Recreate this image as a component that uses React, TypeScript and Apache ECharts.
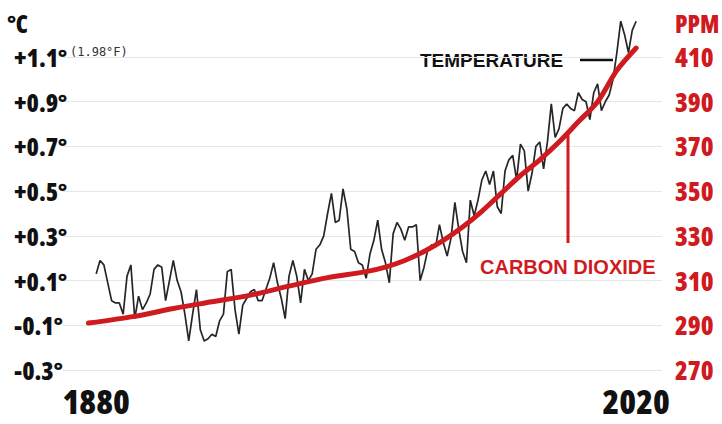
import { useEffect, useRef } from 'react';
import * as echarts from 'echarts';

// Temperature anomaly (°C), one value per year starting at tempStartYear
const tempStartYear = 1880;
const tempValues = [
  0.13, 0.19, 0.17, 0.09, 0.01, 0.0, 0.0, -0.05, 0.12, 0.17,
  -0.07, 0.03, -0.03, 0.0, 0.04, 0.15, 0.17, 0.16, 0.01, 0.1,
  0.19, 0.1, 0.05, -0.05, -0.17, -0.05, 0.06, -0.12, -0.17, -0.16,
  -0.14, -0.15, -0.08, -0.05, 0.14, 0.15, -0.03, -0.14, -0.01, 0.02,
  0.05, 0.06, 0.01, 0.01, 0.06, 0.11, 0.18, 0.09, 0.02, -0.07,
  0.12, 0.19, 0.12, 0.0, 0.15, 0.1, 0.13, 0.24, 0.26, 0.3,
  0.4, 0.49, 0.36, 0.37, 0.51, 0.42, 0.24, 0.23, 0.18, 0.17,
  0.11, 0.22, 0.28, 0.37, 0.24, 0.18, 0.09, 0.31, 0.36, 0.33,
  0.28, 0.34, 0.34, 0.35, 0.1, 0.16, 0.24, 0.26, 0.25, 0.35,
  0.27, 0.21, 0.29, 0.45, 0.33, 0.23, 0.18, 0.46, 0.39, 0.46,
  0.55, 0.59, 0.53, 0.59, 0.43, 0.4, 0.59, 0.64, 0.66, 0.55,
  0.71, 0.68, 0.5, 0.58, 0.7, 0.72, 0.6, 0.72, 0.89, 0.74,
  0.78, 0.87, 0.89, 0.87, 0.86, 0.94, 0.91, 0.9, 0.82, 0.94,
  0.98, 0.86, 0.9, 0.93, 1.0, 1.12, 1.26, 1.2, 1.12, 1.22,
  1.26,
];

// Atmospheric CO2 (ppm)
const co2Years = [1878, 1890, 1900, 1910, 1920, 1930, 1940, 1950, 1955, 1960, 1965, 1970, 1975, 1980, 1985, 1990, 1995, 2000, 2005, 2010, 2015, 2020];
const co2Ppm = [291, 294, 297.5, 300.5, 303.5, 307.5, 311.3, 314, 316, 319, 323, 328, 334, 341, 349, 357, 364, 372, 381, 390, 404, 414];

// Axis ticks
const tempTicks = [-0.3, -0.1, 0.1, 0.3, 0.5, 0.7, 0.9, 1.1];
const ppmTicks = [270, 290, 310, 330, 350, 370, 390, 410];
const yearTicks = [1880, 2020];

const RED = '#cf1b1f';
const COND_FAMILY = "'Open Sans', sans-serif";
// zrender's SVG renderer writes font-weight into an inline style, so a font-stretch can ride along
const COND_WEIGHT = '800;font-stretch:75%';

export default function App() {
  const ref = useRef<HTMLDivElement>(null);
  useEffect(() => {
    if (!ref.current) return;
    const chart = echarts.init(ref.current, undefined, { renderer: 'svg' });
    const tempData = tempValues.map((v, i) => [tempStartYear + i, v]);
    const co2Data = co2Years.map((y, i) => [y, co2Ppm[i]]);
    chart.setOption({
      animation: false,
      backgroundColor: '#ffffff',
      grid: { left: 63, right: 60, top: 57, bottom: 54, containLabel: false, outerBoundsMode: 'none' },
      xAxis: {
        type: 'value',
        min: 1871.4,
        max: 2026.7,
        axisLine: { show: false },
        axisTick: { show: false, customValues: yearTicks },
        splitLine: { show: false },
        axisLabel: {
          customValues: yearTicks,
          margin: 31,
          verticalAlign: 'middle',
          fontFamily: COND_FAMILY,
          fontWeight: COND_WEIGHT,
          fontSize: 34,
          color: '#111',
          formatter: (v: number) => String(v),
        },
      },
      yAxis: [
        {
          type: 'value',
          min: -0.3,
          max: 1.1,
          position: 'left',
          name: '°C',
          nameLocation: 'end',
          nameGap: 29,
          nameTextStyle: { fontFamily: COND_FAMILY, fontWeight: COND_WEIGHT, fontSize: 24, color: '#111', align: 'right', padding: [0, 35, 0, 0] },
          axisLine: { show: false },
          axisTick: { show: false, customValues: tempTicks },
          splitLine: { show: true, lineStyle: { color: '#e4e7e8', width: 1.2 } },
          axisLabel: {
            customValues: tempTicks,
            align: 'left',
            margin: 49,
            fontFamily: COND_FAMILY,
            fontWeight: COND_WEIGHT,
            fontSize: 25,
            color: '#111',
            formatter: (v: number) => (v > 0 ? '+' : '') + v.toFixed(1) + '°',
          },
        },
        {
          type: 'value',
          min: 270,
          max: 410,
          position: 'right',
          name: 'PPM',
          nameLocation: 'end',
          nameGap: 29,
          nameTextStyle: { fontFamily: COND_FAMILY, fontWeight: COND_WEIGHT, fontSize: 24, color: RED, align: 'left', padding: [0, 0, 0, 13] },
          axisLine: { show: false },
          axisTick: { show: false, customValues: ppmTicks },
          splitLine: { show: false },
          axisLabel: {
            customValues: ppmTicks,
            align: 'left',
            margin: 13,
            fontFamily: COND_FAMILY,
            fontWeight: COND_WEIGHT,
            fontSize: 26,
            color: RED,
          },
        },
      ],
      series: [
        {
          type: 'line',
          name: 'Temperature',
          yAxisIndex: 0,
          data: tempData,
          showSymbol: false,
          clip: false,
          lineStyle: { color: '#262626', width: 1.7 },
          z: 2,
        },
        {
          type: 'line',
          name: 'Carbon dioxide',
          yAxisIndex: 1,
          data: co2Data,
          showSymbol: false,
          clip: false,
          smooth: 0.3,
          lineStyle: { color: RED, width: 5, cap: 'round' },
          z: 3,
        },
      ],
      graphic: [
        {
          type: 'text',
          left: 70,
          top: 46,
          style: { text: '(1.98°F)', fontFamily: "'DejaVu Sans Mono', monospace", fontSize: 12, fill: '#333' },
        },
        {
          type: 'text',
          x: 420,
          y: 60,
          style: { text: 'TEMPERATURE', fontFamily: "'Liberation Sans', Arial, sans-serif", fontWeight: 'bold', fontSize: 19, fill: '#111', verticalAlign: 'middle', align: 'left' },
        },
        {
          type: 'line',
          shape: { x1: 580, y1: 60, x2: 613, y2: 60 },
          style: { stroke: '#111', lineWidth: 2.5 },
          z: 10,
        },
        {
          type: 'text',
          x: 480,
          y: 267,
          style: { text: 'CARBON DIOXIDE', fontFamily: "'Liberation Sans', Arial, sans-serif", fontWeight: 'bold', fontSize: 20, fill: RED, verticalAlign: 'middle', align: 'left' },
        },
        {
          type: 'line',
          shape: { x1: 568, y1: 132, x2: 568, y2: 243 },
          style: { stroke: RED, lineWidth: 3 },
          z: 10,
        },
      ],
    });
    return () => chart.dispose();
  }, []);
  return <div ref={ref} style={{ width: 722, height: 424, position: 'absolute', left: 0, top: 0 }} />;
}
